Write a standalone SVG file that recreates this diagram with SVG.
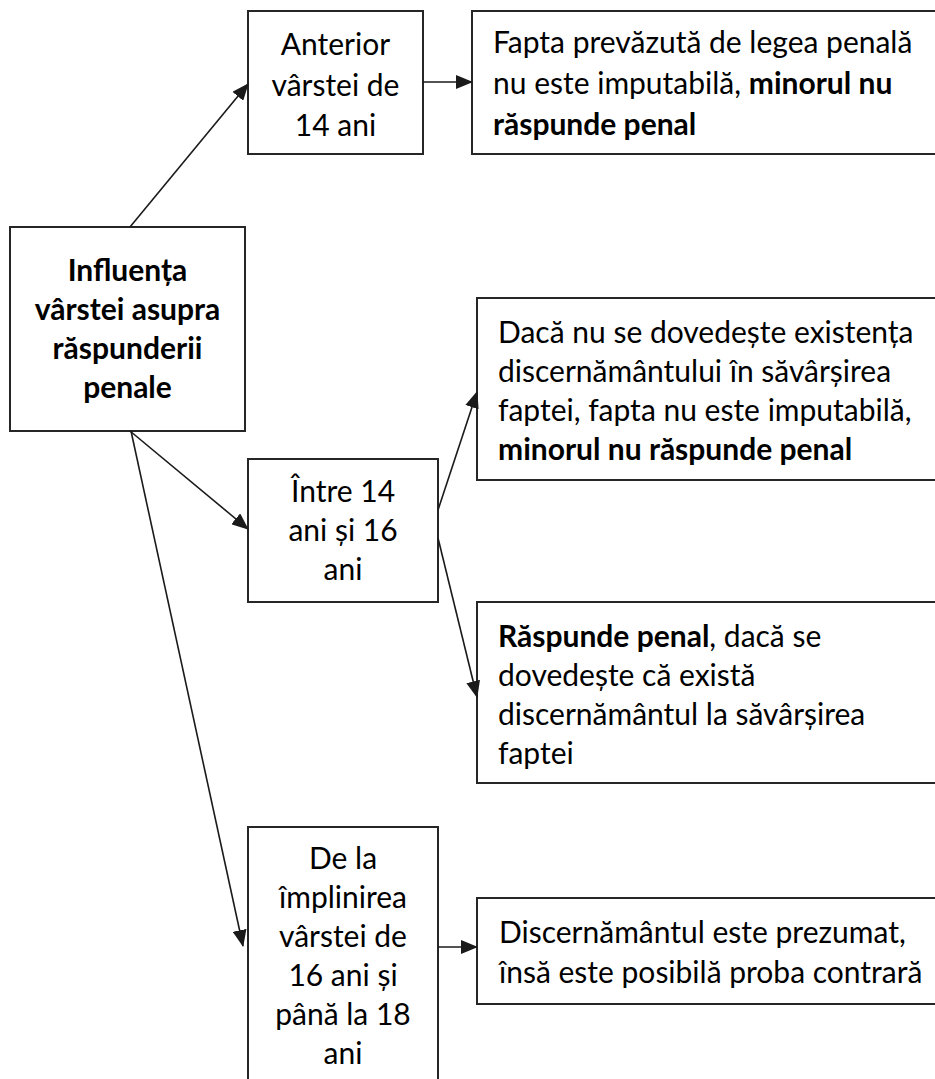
<svg xmlns="http://www.w3.org/2000/svg" width="935" height="1079" viewBox="0 0 935 1079">
<defs>
<style>
.box{fill:#fff;stroke:#262626;stroke-width:2}
.t{font-family:Lato,"Liberation Sans",sans-serif;font-size:30px;fill:#000}
.c{text-anchor:middle}
.b{font-weight:bold}
.con line{stroke:#1a1a1a;stroke-width:1.6;marker-end:url(#ah)}
</style>
<marker id="ah" viewBox="0 0 17 14" refX="16" refY="7" markerWidth="17" markerHeight="14" markerUnits="userSpaceOnUse" orient="auto">
<path d="M0,0 L17,7 L0,14 z" fill="#1a1a1a"/>
</marker>
</defs>
<rect width="935" height="1079" fill="#fff"/>
<g id="n-center">
<rect class="box" x="10" y="227" width="235" height="204"/>
<text class="t c b" x="127.5" y="281">Influența</text>
<text class="t c b" x="127.5" y="320">vârstei asupra</text>
<text class="t c b" x="127.5" y="359">răspunderii</text>
<text class="t c b" x="127.5" y="398">penale</text>
</g>
<g id="n-anterior">
<rect class="box" x="248" y="11" width="175" height="143"/>
<text class="t c" x="335.5" y="55">Anterior</text>
<text class="t c" x="335.5" y="96">vârstei de</text>
<text class="t c" x="335.5" y="136">14 ani</text>
</g>
<g id="n-fapta">
<rect class="box" x="472" y="11" width="470" height="143"/>
<text class="t" x="493" y="53">Fapta prevăzută de legea penală</text>
<text class="t" x="493" y="94">nu este imputabilă, <tspan class="b">minorul nu</tspan></text>
<text class="t b" x="493" y="135">răspunde penal</text>
</g>
<g id="n-intre">
<rect class="box" x="248" y="459" width="190" height="143"/>
<text class="t c" x="343" y="502">Între 14</text>
<text class="t c" x="343" y="541">ani și 16</text>
<text class="t c" x="343" y="580">ani</text>
</g>
<g id="n-daca">
<rect class="box" x="477" y="298" width="465" height="182"/>
<text class="t" x="498" y="343">Dacă nu se dovedește existența</text>
<text class="t" x="498" y="382">discernământului în săvârșirea</text>
<text class="t" x="498" y="421">faptei, fapta nu este imputabilă,</text>
<text class="t b" x="498" y="460">minorul nu răspunde penal</text>
</g>
<g id="n-raspunde">
<rect class="box" x="477" y="602" width="465" height="181"/>
<text class="t" x="498" y="647"><tspan class="b">Răspunde penal</tspan>, dacă se</text>
<text class="t" x="498" y="686">dovedește că există</text>
<text class="t" x="498" y="725">discernământul la săvârșirea</text>
<text class="t" x="498" y="764">faptei</text>
</g>
<g id="n-dela">
<rect class="box" x="248" y="827" width="190" height="260"/>
<text class="t c" x="343" y="869">De la</text>
<text class="t c" x="343" y="908">împlinirea</text>
<text class="t c" x="343" y="947">vârstei de</text>
<text class="t c" x="343" y="986">16 ani și</text>
<text class="t c" x="343" y="1025">până la 18</text>
<text class="t c" x="343" y="1064">ani</text>
</g>
<g id="n-discern">
<rect class="box" x="477" y="898" width="465" height="106"/>
<text class="t" x="499" y="943">Discernământul este prezumat,</text>
<text class="t" x="499" y="983">însă este posibilă proba contrară</text>
</g>
<g id="connectors" class="con">
<line x1="130" y1="227" x2="248" y2="84"/>
<line x1="423" y1="82" x2="472" y2="82"/>
<line x1="130" y1="431" x2="248" y2="529"/>
<line x1="131" y1="431" x2="243" y2="946"/>
<line x1="438" y1="510" x2="477" y2="392"/>
<line x1="438" y1="538" x2="477" y2="697"/>
<line x1="438" y1="947" x2="477" y2="947"/>
</g>
</svg>
